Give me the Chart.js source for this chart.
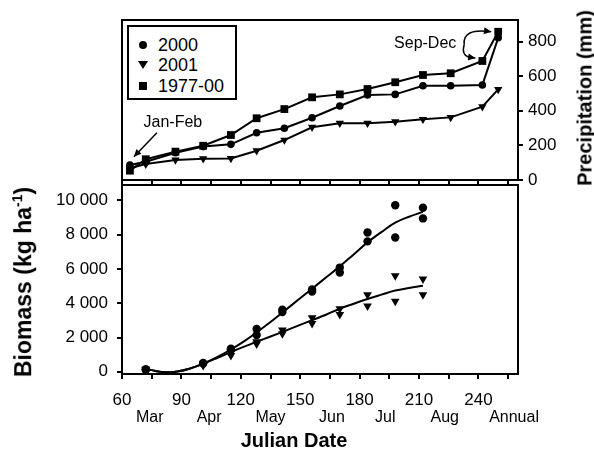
<!DOCTYPE html>
<html>
<head>
<meta charset="utf-8">
<script src="https://cdn.jsdelivr.net/npm/chart.js@4.4.0/dist/chart.umd.min.js"></script>
<style>
body { margin: 0; background: #fff; font-family: "Liberation Sans", Arial, sans-serif; color: #000; }
#wrap { position: relative; width: 594px; height: 449px; overflow: hidden; }
#wrap canvas { position: absolute; left: 0; }
.title { position: absolute; font-weight: bold; font-size: 20px; white-space: nowrap; transform: translate(-50%, -50%); }
.vert { transform: translate(-50%, -50%) rotate(-90deg); }
.title sup { font-size: 14px; }
#legend { position: absolute; left: 127px; top: 25px; width: 106px; height: 71px; border: 2px solid #000; background: #fff; font-size: 18px; }
#legend .row { position: absolute; left: 29px; line-height: 20px; }
#legend .mk { position: absolute; background: #000; }
</style>
</head>
<body>
<div id="wrap">
  <canvas id="precipChart" width="594" height="190" style="top:0"></canvas>
  <canvas id="biomassChart" width="594" height="269" style="top:180px"></canvas>
  <div id="legend">
    <div class="mk" style="left:10px;top:14px;width:8px;height:8px;border-radius:50%"></div>
    <div class="row" style="top:8px">2000</div>
    <div class="mk" style="left:9px;top:34px;width:0;height:0;background:none;border-left:5px solid transparent;border-right:5px solid transparent;border-top:8px solid #000"></div>
    <div class="row" style="top:28px">2001</div>
    <div class="mk" style="left:10px;top:55px;width:8px;height:8px"></div>
    <div class="row" style="top:49px">1977-00</div>
  </div>
  <div class="title vert" style="left:585px;top:98px">Precipitation (mm)</div>
  <div class="title vert" style="left:23px;top:282px;font-size:23px">Biomass (kg ha<sup>-1</sup>)</div>
  <div class="title" style="left:294px;top:440px">Julian Date</div>
</div>
<script>
// cumulative precipitation (top panel)
const precipDays = [64, 72, 87, 101, 115, 128, 142, 156, 170, 184, 198, 212, 226, 242, 250];
const precip2000 = [87, 106, 158, 193, 206, 273, 299, 360, 428, 491, 495, 545, 545, 549, 822];
const precip2001 = [68, 92, 116, 123, 125, 169, 231, 305, 328, 328, 337, 351, 362, 424, 524];
const precipMean = [54, 120, 164, 198, 260, 357, 410, 478, 495, 526, 565, 607, 617, 688, 857];

// biomass samples (two replicates per date)
const sampleDays = [72, 101, 115, 128, 141, 156, 170, 184, 198, 212];
const bio2000A = [150, 520, 1350, 2500, 3620, 4800, 6080, 8130, 9720, 9570];
const bio2000B = [100, 480, 1300, 2150, 3490, 4680, 5790, 7610, 7840, 8950];
const bio2001A = [150, 450, 1100, 1750, 2440, 3150, 3680, 4490, 5600, 5410];
const bio2001B = [100, 360, 950, 1620, 2220, 2820, 3340, 3840, 4120, 4490];

// fitted curves
const fitDays = [72, 77, 82, 88, 94, 101, 108, 115, 122, 128, 135, 142, 149, 156, 163, 170, 177, 184, 191, 198, 205, 212];
const fit2000 = [180, 40, -30, 20, 180, 480, 860, 1300, 1800, 2300, 2900, 3550, 4200, 4850, 5500, 6150, 6850, 7550, 8150, 8700, 9050, 9330];
const fit2001 = [180, 40, -30, 20, 180, 470, 800, 1150, 1480, 1750, 2060, 2370, 2690, 3010, 3330, 3680, 3970, 4250, 4500, 4740, 4890, 5020];

// axes
const xTicks = [60, 75, 90, 105, 120, 135, 150, 165, 180, 195, 210, 225, 240, 255];
const xLabels = [60, 90, 120, 150, 180, 210, 240];
const monthPos = [74, 104, 135, 166, 193, 223, 258];
const monthNames = ['Mar', 'Apr', 'May', 'Jun', 'Jul', 'Aug', 'Annual'];
const precipTicks = [0, 200, 400, 600, 800];
const bioTicks = [0, 2000, 4000, 6000, 8000, 10000];

Chart.defaults.font.family = '"Liberation Sans", Arial, sans-serif';
Chart.defaults.color = '#000';

const pts = (xs, ys) => xs.map((x, i) => ({ x: x, y: ys[i] }));

// box around the plot area
const frame = {
    id: 'frame',
    afterDraw(chart) {
        const a = chart.chartArea;
        const ctx = chart.ctx;
        ctx.save();
        ctx.strokeStyle = '#000';
        ctx.lineWidth = 2;
        ctx.strokeRect(a.left, a.top, a.right - a.left, a.bottom - a.top);
        ctx.restore();
    }
};

function arrowHead(ctx, fromX, fromY, tipX, tipY, size) {
    const ang = Math.atan2(tipY - fromY, tipX - fromX);
    ctx.beginPath();
    ctx.moveTo(tipX, tipY);
    ctx.lineTo(tipX - size * Math.cos(ang - 0.45), tipY - size * Math.sin(ang - 0.45));
    ctx.lineTo(tipX - size * Math.cos(ang + 0.45), tipY - size * Math.sin(ang + 0.45));
    ctx.closePath();
    ctx.fill();
}

// Jan-Feb and Sep-Dec notes
const notes = {
    id: 'notes',
    afterDatasetsDraw(chart) {
        const xs = chart.scales.x, ys = chart.scales.yP, ctx = chart.ctx;
        ctx.save();
        ctx.strokeStyle = '#000';
        ctx.fillStyle = '#000';
        ctx.lineWidth = 1.5;
        ctx.font = '16px "Liberation Sans", Arial, sans-serif';
        ctx.textAlign = 'center';
        ctx.textBaseline = 'middle';

        const fx = xs.getPixelForValue(precipDays[0]);
        const fy = ys.getPixelForValue(precipMean[0]);
        ctx.fillText('Jan-Feb', fx + 43, fy - 48);
        const tx = fx + 4, ty = fy - 14;
        ctx.beginPath();
        ctx.moveTo(fx + 27, fy - 38);
        ctx.lineTo(tx, ty);
        ctx.stroke();
        arrowHead(ctx, fx + 27, fy - 38, tx, ty, 8);

        const n = precipDays.length;
        const ax = xs.getPixelForValue(precipDays[n - 1]) - 7;
        const ay = ys.getPixelForValue(precipMean[n - 1]);
        const bx = xs.getPixelForValue(precipDays[n - 2]) - 7;
        const by = ys.getPixelForValue(precipMean[n - 2]) - 3;
        ctx.fillText('Sep-Dec', ax - 66, ay + 12);
        const mx = ax - 27, my = ay + 13;
        ctx.beginPath();
        ctx.moveTo(mx, my);
        ctx.quadraticCurveTo(mx - 2, ay - 4, ax, ay);
        ctx.stroke();
        arrowHead(ctx, mx + 6, ay - 3, ax, ay, 8);
        ctx.beginPath();
        ctx.moveTo(mx, my);
        ctx.quadraticCurveTo(mx - 4, by, bx, by);
        ctx.stroke();
        arrowHead(ctx, mx + 4, by - 1, bx, by, 8);
        ctx.restore();
    }
};

// drop the label overhang Chart.js reserves, so plot areas sit exactly
const noPad = s => { s.paddingTop = 0; s.paddingBottom = 0; s.paddingLeft = 0; s.paddingRight = 0; };

const xScale = (extra) => Object.assign({
    type: 'linear',
    min: 60,
    max: 260,
    afterBuildTicks: axis => { axis.ticks = xTicks.map(v => ({ value: v })); },
    border: { display: false },
    grid: { drawOnChartArea: false, tickLength: 5, color: '#000', lineWidth: 2 }
}, extra);

new Chart(document.getElementById('precipChart'), {
    type: 'line',
    data: {
        datasets: [
            { label: '2000', data: pts(precipDays, precip2000), pointStyle: 'circle', pointRadius: 3.8 },
            { label: '2001', data: pts(precipDays, precip2001), pointStyle: 'triangle', pointRotation: 180, pointRadius: 4.8 },
            { label: '1977-00', data: pts(precipDays, precipMean), pointStyle: 'rect', pointRadius: 5.5 }
        ].map(d => Object.assign(d, {
            yAxisID: 'yP',
            borderColor: '#000',
            backgroundColor: '#000',
            borderWidth: 2,
            pointBorderWidth: 0,
            tension: 0
        }))
    },
    options: {
        responsive: false,
        animation: false,
        clip: false,
        layout: { padding: { left: 122, top: 20, right: 0, bottom: 0 } },
        plugins: { legend: { display: false }, tooltip: { enabled: false } },
        scales: {
            x: xScale({
                ticks: { display: false },
                afterFit: s => { noPad(s); s.height = 10; }
            }),
            yP: {
                type: 'linear',
                position: 'right',
                min: 0,
                max: 925,
                afterBuildTicks: axis => { axis.ticks = precipTicks.map(v => ({ value: v })); },
                afterFit: s => { noPad(s); s.width = 76; },
                border: { display: false },
                grid: { drawOnChartArea: false, tickLength: 5, color: '#000', lineWidth: 2 },
                ticks: { font: { size: 17 }, padding: 5 }
            }
        }
    },
    plugins: [frame, notes]
});

const markerSet = (data, style, radius) => ({
    data: data,
    showLine: false,
    pointStyle: style,
    pointRotation: style === 'triangle' ? 180 : 0,
    pointRadius: radius,
    pointBorderWidth: 0,
    backgroundColor: '#000',
    borderColor: '#000'
});

const fitSet = (data) => ({
    data: data,
    borderColor: '#000',
    borderWidth: 2,
    pointRadius: 0,
    tension: 0.4
});

new Chart(document.getElementById('biomassChart'), {
    type: 'line',
    data: {
        datasets: [
            fitSet(pts(fitDays, fit2000)),
            fitSet(pts(fitDays, fit2001)),
            markerSet(pts(sampleDays, bio2000A), 'circle', 4.2),
            markerSet(pts(sampleDays, bio2000B), 'circle', 4.2),
            markerSet(pts(sampleDays, bio2001A), 'triangle', 5),
            markerSet(pts(sampleDays, bio2001B), 'triangle', 5)
        ]
    },
    options: {
        responsive: false,
        animation: false,
        layout: { padding: { left: 0, top: 1, right: 76, bottom: 0 } },
        plugins: { legend: { display: false }, tooltip: { enabled: false } },
        scales: {
            x: xScale({
                weight: 0,
                ticks: {
                    font: { size: 17 },
                    padding: 11,
                    maxRotation: 0,
                    autoSkip: false,
                    callback: v => xLabels.includes(v) ? String(v) : ''
                },
                afterFit: s => { noPad(s); s.height = 32; }
            }),
            x2: {
                type: 'linear',
                position: 'bottom',
                weight: 1,
                min: 60,
                max: 260,
                afterBuildTicks: axis => { axis.ticks = monthPos.map(v => ({ value: v })); },
                afterFit: s => { noPad(s); s.height = 43; },
                border: { display: false },
                grid: { display: false, drawTicks: false },
                ticks: {
                    font: { size: 16 },
                    padding: 2,
                    maxRotation: 0,
                    autoSkip: false,
                    callback: v => monthNames[monthPos.indexOf(v)]
                }
            },
            y: {
                type: 'linear',
                position: 'left',
                min: -130,
                max: 10900,
                afterBuildTicks: axis => { axis.ticks = bioTicks.map(v => ({ value: v })); },
                afterFit: s => { noPad(s); s.width = 122; },
                border: { display: false },
                grid: { drawOnChartArea: false, tickLength: 5, color: '#000', lineWidth: 2 },
                ticks: {
                    font: { size: 17 },
                    padding: 9,
                    callback: v => v === 0 ? '0' : (v / 1000) + ' 000'
                }
            }
        }
    },
    plugins: [frame]
});
</script>
</body>
</html>
